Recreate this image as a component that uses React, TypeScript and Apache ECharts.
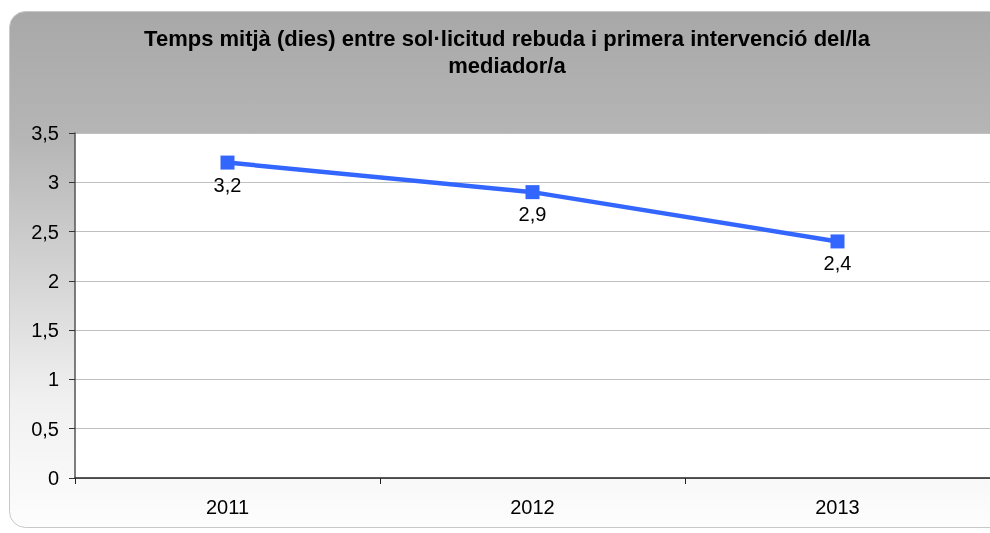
import React, { useEffect, useRef } from "react";
import * as echarts from "echarts";

const categories = ["2011", "2012", "2013"];
const values = [3.2, 2.9, 2.4];
const titleText = "Temps mitjà (dies) entre sol·licitud rebuda i primera intervenció del/la\nmediador/a";

const fmt = (v: number) => String(v).replace(".", ",");

export default function App() {
  const ref = useRef<HTMLDivElement>(null);
  useEffect(() => {
    const chart = echarts.init(ref.current!, null, { renderer: "svg" });
    chart.setOption({
      animation: false,
      textStyle: { fontFamily: "Liberation Sans, Arial, sans-serif" },
      graphic: [
        {
          type: "rect",
          z: -10,
          silent: true,
          shape: { x: 9.5, y: 11.5, width: 1000, height: 516, r: 16 },
          style: {
            fill: new echarts.graphic.LinearGradient(0, 0, 0, 1, [
              { offset: 0, color: "#a8a8a8" },
              { offset: 0.25, color: "#b6b6b6" },
              { offset: 0.75, color: "#f0f0f0" },
              { offset: 1, color: "#fdfdfd" },
            ]),
            stroke: "#c8c8c8",
            lineWidth: 1,
          },
        },
        {
          type: "text",
          x: 507,
          y: 25,
          z: 10,
          style: {
            text: titleText,
            fill: "#000",
            font: "bold 22px 'Liberation Sans', Arial, sans-serif",
            textAlign: "center",
            lineHeight: 27,
          },
        },
      ],
      grid: {
        left: 75,
        right: 0,
        top: 133,
        bottom: 55,
        show: true,
        backgroundColor: "#ffffff",
        borderWidth: 0,
        containLabel: false,
      },
      xAxis: {
        type: "category",
        data: categories,
        boundaryGap: true,
        axisLine: { show: true, lineStyle: { color: "#222", width: 1.5 } },
        axisTick: { show: true, alignWithLabel: false, length: 6, lineStyle: { color: "#222" } },
        axisLabel: { color: "#000", fontSize: 20, margin: 19 },
        splitLine: { show: false },
      },
      yAxis: {
        type: "value",
        min: 0,
        max: 3.5,
        interval: 0.5,
        axisLine: { show: true, lineStyle: { color: "#555", width: 1.5 } },
        axisTick: { show: true, length: 6, lineStyle: { color: "#333" } },
        axisLabel: { color: "#000", fontSize: 20, margin: 16, formatter: (v: number) => fmt(v) },
        splitLine: { show: true, lineStyle: { color: "#c0c0c0", width: 1 } },
      },
      series: [
        {
          type: "line",
          data: values,
          symbol: "rect",
          symbolSize: 14,
          itemStyle: { color: "#3366ff" },
          lineStyle: { color: "#3366ff", width: 4.5 },
          label: {
            show: true,
            position: "bottom",
            distance: 5,
            color: "#000",
            fontSize: 20,
            formatter: (p: any) => fmt(p.value),
          },
        },
      ],
    });
    return () => chart.dispose();
  }, []);
  return <div ref={ref} style={{ position: "fixed", left: 0, top: 0, width: 990, height: 533 }} />;
}
